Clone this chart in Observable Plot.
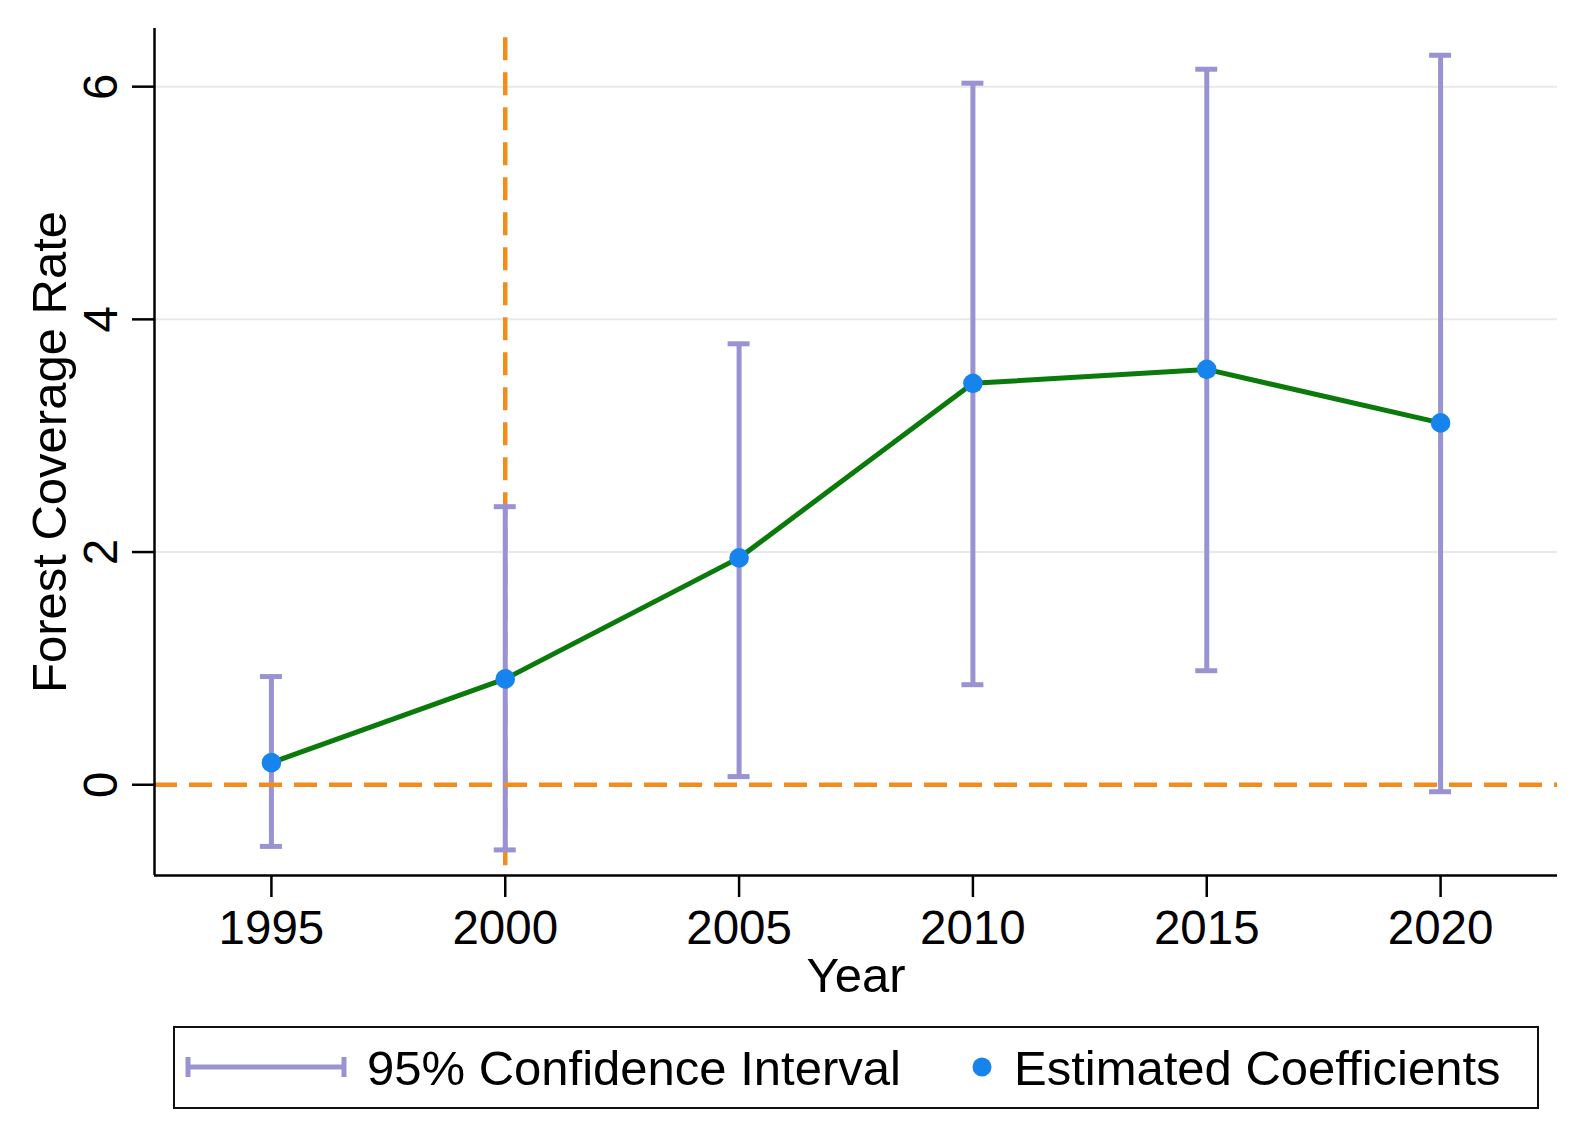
<!DOCTYPE html>
<html>
<head>
<meta charset="utf-8">
<script src="https://cdn.jsdelivr.net/npm/d3@7"></script>
<script src="https://cdn.jsdelivr.net/npm/@observablehq/plot@0.6"></script>
<style>
  html, body { margin: 0; padding: 0; background: #fff; }
  body { width: 1580px; height: 1142px; position: relative; font-family: "Liberation Sans", Arial, sans-serif; }
  #legend {
    position: absolute; left: 173px; top: 1026px; width: 1366px; height: 83px;
    box-sizing: border-box; border: 2.5px solid #111; background: #fff;
  }
  #legend .txt { position: absolute; top: 50%; transform: translateY(-50%); font-size: 49px; color: #000; white-space: nowrap; line-height: 1; }
  #legend svg { position: absolute; left: 0; top: 0; }
</style>
</head>
<body>
<div id="chart"></div>
<div id="legend"></div>
<script>
// ---- data ----
const years = [1995, 2000, 2005, 2010, 2015, 2020];
const coefficients = [0.19, 0.91, 1.95, 3.45, 3.57, 3.11];
const ciLow = [-0.53, -0.56, 0.07, 0.86, 0.98, -0.06];
const ciHigh = [0.93, 2.39, 3.79, 6.03, 6.15, 6.27];
const yTicks = [0, 2, 4, 6];
const gridTicks = [2, 4, 6];
const xTicks = [1995, 2000, 2005, 2010, 2015, 2020];
const policyYear = [2000];
const policyLineTop = 6.42;
const xDomain = [1992.5, 2022.5];
const yDomain = [-0.78, 6.5];
const yLabel = "Forest Coverage Rate";
const xLabel = "Year";
const legendLabels = ["95% Confidence Interval", "Estimated Coefficients"];

const purple = "#9a93d3";
const blue = "#1784ee";
const green = "#0a7a0a";
const orange = "#f28c1e";
const capHalf = 0.235;

const data = years.map((year, i) => ({year, coef: coefficients[i], lo: ciLow[i], hi: ciHigh[i]}));

const chart = Plot.plot({
  width: 1580,
  height: 1000,
  marginTop: 28,
  marginBottom: 125,
  marginLeft: 154,
  marginRight: 23,
  x: {domain: xDomain},
  y: {domain: yDomain},
  style: {fontFamily: "'Liberation Sans', Arial, sans-serif", background: "#fff", color: "#000", overflow: "visible"},
  marks: [
    Plot.gridY(gridTicks, {stroke: "#e9e9e9", strokeOpacity: 1, strokeWidth: 2}),
    Plot.ruleX(policyYear, {y1: policyLineTop, y2: yDomain[0], stroke: orange, strokeWidth: 4.5, strokeDasharray: "23,12"}),
    Plot.ruleX(data, {x: "year", y1: "lo", y2: "hi", stroke: purple, strokeWidth: 5}),
    Plot.ruleY(data, {y: "hi", x1: d => d.year - capHalf, x2: d => d.year + capHalf, stroke: purple, strokeWidth: 5}),
    Plot.ruleY(data, {y: "lo", x1: d => d.year - capHalf, x2: d => d.year + capHalf, stroke: purple, strokeWidth: 5}),
    Plot.ruleY([0], {stroke: orange, strokeWidth: 4.5, strokeDasharray: "23,12"}),
    Plot.line(data, {x: "year", y: "coef", stroke: green, strokeWidth: 5}),
    Plot.dot(data, {x: "year", y: "coef", r: 9.8, fill: blue, stroke: null}),
    Plot.ruleX([xDomain[0]], {stroke: "#000", strokeWidth: 2.5}),
    Plot.ruleY([yDomain[0]], {stroke: "#000", strokeWidth: 2.5}),
    Plot.axisX({ticks: xTicks, tickFormat: d => String(d), tickSize: 22, tickPadding: 13, fontSize: 47.5, strokeWidth: 2.5, label: null, fill: "#000"}),
    Plot.axisY({ticks: yTicks, tickFormat: () => "", tickSize: 22, strokeWidth: 2.5, label: null}),
    Plot.text(yTicks, {y: d => d, text: d => String(d), frameAnchor: "left", dx: -53, rotate: -90, fontSize: 47.5, textAnchor: "middle", lineAnchor: "middle", fill: "#000"}),
    Plot.text([yLabel], {text: d => d, frameAnchor: "left", dx: -104, rotate: -90, fontSize: 49, textAnchor: "middle", lineAnchor: "middle", fill: "#000"}),
    Plot.text([xLabel], {text: d => d, frameAnchor: "bottom", dy: 101, fontSize: 49, textAnchor: "middle", lineAnchor: "middle", fill: "#000"})
  ]
});
document.getElementById("chart").appendChild(chart);

// ---- legend ----
const legend = document.getElementById("legend");
const ns = "http://www.w3.org/2000/svg";
const lsvg = document.createElementNS(ns, "svg");
lsvg.setAttribute("width", 1360);
lsvg.setAttribute("height", 78);
const mid = 39;
function el(name, attrs) {
  const e = document.createElementNS(ns, name);
  for (const k in attrs) e.setAttribute(k, attrs[k]);
  lsvg.appendChild(e);
  return e;
}
el("line", {x1: 13, x2: 169, y1: mid, y2: mid, stroke: purple, "stroke-width": 5});
el("line", {x1: 13, x2: 13, y1: mid - 10, y2: mid + 10, stroke: purple, "stroke-width": 5});
el("line", {x1: 169, x2: 169, y1: mid - 10, y2: mid + 10, stroke: purple, "stroke-width": 5});
el("circle", {cx: 807, cy: mid, r: 9.5, fill: blue});
legend.appendChild(lsvg);
const t1 = document.createElement("div");
t1.className = "txt"; t1.style.left = "192px"; t1.textContent = legendLabels[0];
const t2 = document.createElement("div");
t2.className = "txt"; t2.style.left = "839px"; t2.textContent = legendLabels[1];
legend.appendChild(t1); legend.appendChild(t2);
</script>
</body>
</html>
